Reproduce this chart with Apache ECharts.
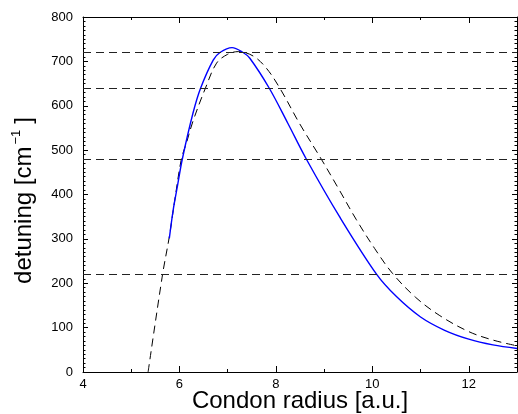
<!DOCTYPE html>
<html>
<head>
<meta charset="utf-8">
<script src="https://cdn.jsdelivr.net/npm/echarts@6/dist/echarts.min.js"></script>
<style>html,body{margin:0;padding:0;background:#fff}#c{width:518px;height:414px}</style>
</head>
<body>
<div id="c"></div>
<script>
var xTicks = [4, 6, 8, 10, 12];
var levels = [720, 640, 480, 220];
var blueX = [5.79, 5.87, 5.96, 6.06, 6.28, 6.44, 6.70, 6.84, 7.09, 7.32, 7.46, 7.86, 8.25, 8.63, 9.32, 10.09, 10.5, 11.0, 11.5, 12.0, 12.5, 13.0];
var blueY = [301, 365, 420, 480, 583, 640, 703, 720, 731, 720, 707, 640, 560, 480, 350, 220, 170, 124, 94, 74, 61, 53];
var dashX = [5.35, 5.65, 5.79, 5.90, 6.04, 6.15, 6.28, 6.54, 6.77, 7.00, 7.22, 7.53, 7.80, 8.08, 8.49, 8.94, 9.30, 9.67, 10.05, 10.42, 10.9, 11.4, 12.0, 12.5, 13.0];
var dashY = [0, 220, 305, 385, 480, 518, 565, 640, 696, 716, 722, 712, 685, 640, 560, 480, 413, 343, 278, 222, 168, 127, 91, 72, 59];

function zip(a, b) { return a.map(function (v, i) { return [v, b[i]]; }); }

var font = 'Liberation Sans, Arial, sans-serif';
var axisBase = {
  axisLine: { show: true, onZero: false, lineStyle: { color: '#000', width: 1 } },
  splitLine: { show: false },
  nameMoveOverlap: false
};
var chart = echarts.init(document.getElementById('c'));
chart.setOption({
  animation: false,
  grid: { left: 83, top: 17, width: 434, height: 355, containLabel: false, outerBoundsMode: 'none' },
  xAxis: [
    Object.assign({}, axisBase, {
      type: 'value', position: 'bottom', min: 4, max: 13, interval: 2,
      axisTick: { inside: true, length: 6, lineStyle: { color: '#000' } },
      minorTick: { show: true, splitNumber: 2, length: 3, lineStyle: { color: '#000' } },
      axisLabel: { color: '#000', fontSize: 13, fontFamily: font, margin: 6, showMaxLabel: false,
        formatter: function (v) { return xTicks.indexOf(v) >= 0 ? String(v) : ''; } },
      name: 'Condon radius [a.u.]', nameLocation: 'middle', nameGap: 17,
      nameTextStyle: { color: '#000', fontSize: 24, fontFamily: font, verticalAlign: 'top' }
    }),
    Object.assign({}, axisBase, {
      type: 'value', position: 'top', min: 4, max: 13, interval: 2,
      axisTick: { inside: true, length: 6, lineStyle: { color: '#000' } },
      minorTick: { show: true, splitNumber: 2, length: 3, lineStyle: { color: '#000' } },
      axisLabel: { show: false }
    })
  ],
  yAxis: [
    Object.assign({}, axisBase, {
      type: 'value', position: 'left', min: 0, max: 800, interval: 100,
      axisTick: { inside: true, length: 5, lineStyle: { color: '#000' } },
      minorTick: { show: true, splitNumber: 10, length: 2.5, lineStyle: { color: '#000' } },
      axisLabel: { color: '#000', fontSize: 13, fontFamily: font, margin: 10 },
      name: '{a|detuning [cm}{s|\u22121}{e|]}', nameLocation: 'middle', nameGap: 45,
      nameTextStyle: {
        color: '#000', fontFamily: font,
        rich: {
          a: { fontSize: 24, fontFamily: font, color: '#000' },
          e: { fontSize: 24, fontFamily: font, color: '#000', padding: [0, 12, 0, 0] },
          s: { fontSize: 13, fontFamily: font, color: '#000', padding: [0, 6, 15, 2] }
        }
      }
    }),
    Object.assign({}, axisBase, {
      type: 'value', position: 'right', min: 0, max: 800, interval: 100,
      axisTick: { inside: true, length: 5, lineStyle: { color: '#000' } },
      minorTick: { show: true, splitNumber: 10, length: 2.5, lineStyle: { color: '#000' } },
      axisLabel: { show: false }
    })
  ],
  series: [
    {
      type: 'line', data: zip(dashX, dashY), smooth: 0.35, symbol: 'none', z: 3,
      lineStyle: { color: '#000', width: 1, type: [8, 5] },
      markLine: {
        silent: true, symbol: 'none', label: { show: false },
        lineStyle: { color: '#222', width: 1, type: [8, 5] },
        data: levels.map(function (v) { return { yAxis: v }; })
      }
    },
    {
      type: 'line', data: zip(blueX, blueY), smooth: 0.35, symbol: 'none', z: 4,
      lineStyle: { color: '#0000ff', width: 1.4 }
    }
  ]
});
</script>
</body>
</html>
